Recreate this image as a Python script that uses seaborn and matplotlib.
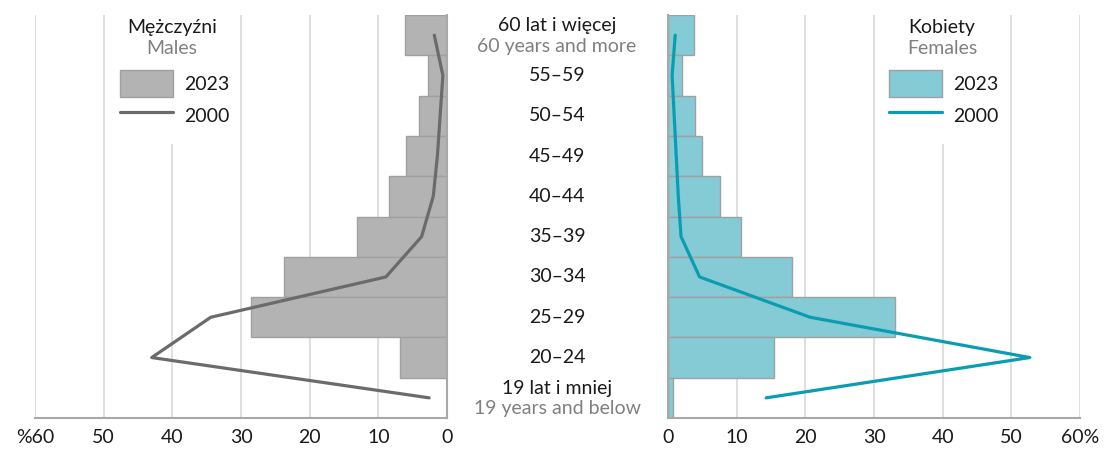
import numpy as np
import matplotlib
matplotlib.use("Agg")
import matplotlib.pyplot as plt
import matplotlib.transforms as mtransforms
from matplotlib.patches import Patch, Rectangle
from matplotlib.lines import Line2D
import seaborn as sns

# age groups, top to bottom
age_groups = ["60+", "55-59", "50-54", "45-49", "40-44", "35-39", "30-34", "25-29", "20-24", "<=19"]
labels_pl = ["60 lat i więcej", "55–59", "50–54", "45–49", "40–44", "35–39", "30–34", "25–29", "20–24", "19 lat i mniej"]
labels_en = ["60 years and more", "", "", "", "", "", "", "", "", "19 years and below"]

# share in %
male_2023 = [6.1, 2.7, 4.1, 6.0, 8.4, 13.1, 23.8, 28.6, 6.8, 0.0]
male_2000 = [1.85, 0.6, 1.0, 1.4, 2.0, 3.7, 8.9, 34.4, 43.0, 2.6]
female_2023 = [3.8, 2.1, 3.9, 5.0, 7.6, 10.6, 18.0, 33.0, 15.4, 0.8]
female_2000 = [1.05, 0.6, 0.9, 1.2, 1.5, 1.9, 4.6, 20.7, 52.7, 14.3]

x_ticks = [60, 50, 40, 30, 20, 10, 0]
left_tick_labels = ["%60", "50", "40", "30", "20", "10", "0"]
right_tick_labels = ["0", "10", "20", "30", "40", "50", "60%"]

sns.set_style("white")
plt.rcParams['font.family'] = ['Lato', 'DejaVu Sans']

male_bar = "#b3b3b3"
male_line = "#6b6b6b"
female_bar = "#84cbd6"
female_line = "#0a9db2"
edge = "#a0a0a0"
grid = "#d9d9d9"
spine = "#a8a8a8"
dark = "#1a1a1a"
grey_txt = "#808080"
fs = 14

fig = plt.figure(figsize=(11.07, 4.51), dpi=100)
W, H = 1107, 451
ax_l = fig.add_axes([35 / W, 1 - 418 / H, 412 / W, 403 / H])
ax_r = fig.add_axes([668 / W, 1 - 418 / H, 412 / W, 403 / H])

ypos = np.arange(len(age_groups))

def panel(ax, bars, line, bar_col, line_col):
    sns.barplot(x=bars, y=age_groups, orient="h", color=bar_col, saturation=1,
                width=1.0, edgecolor=edge, linewidth=1, ax=ax, zorder=2)
    sns.lineplot(x=line, y=ypos, orient="y", sort=False, estimator=None,
                 color=line_col, linewidth=2.3, ax=ax, zorder=3)
    ax.set_ylim(9.5, -0.5)
    ax.set_yticks([])
    ax.set_ylabel("")
    ax.set_xlabel("")
    ax.set_axisbelow(True)
    ax.grid(axis="x", color=grid, linewidth=1.2)
    ax.grid(axis="y", visible=False)
    ax.tick_params(axis="x", length=0, pad=8, labelsize=fs, colors=dark)
    for s in ax.spines.values():
        s.set_visible(False)
    ax.spines["bottom"].set_visible(True)
    ax.spines["bottom"].set_color(spine)
    ax.spines["bottom"].set_linewidth(1.5)

panel(ax_l, male_2023, male_2000, male_bar, male_line)
ax_l.set_xlim(60, 0)
ax_l.set_xticks(x_ticks)
ax_l.set_xticklabels(left_tick_labels)
ax_l.spines["right"].set_visible(True)
ax_l.spines["right"].set_color(spine)
ax_l.spines["right"].set_linewidth(1.5)

panel(ax_r, female_2023, female_2000, female_bar, female_line)
ax_r.set_xlim(0, 60)
ax_r.set_xticks(x_ticks[::-1])
ax_r.set_xticklabels(right_tick_labels)
ax_r.spines["left"].set_visible(True)
ax_r.spines["left"].set_color(spine)
ax_r.spines["left"].set_linewidth(1.5)

# white area behind the legends (hides the 40 gridline)
for ax in (ax_l, ax_r):
    tr = mtransforms.blended_transform_factory(ax.transData, ax.transAxes)
    ax.add_patch(Rectangle((35, 0.68), 10, 0.4, transform=tr, facecolor="white",
                           edgecolor="none", zorder=1, clip_on=False))

def legend(ax, bar_col, line_col, x_px, title_pl, title_en, title_x):
    handles = [Patch(facecolor=bar_col, edgecolor=edge, linewidth=1, label="2023"),
               Line2D([], [], color=line_col, linewidth=2.3, label="2000")]
    ax.legend(handles=handles, loc="upper left", frameon=False, borderpad=0,
              borderaxespad=0, bbox_to_anchor=(x_px / W, 1 - 70 / H),
              bbox_transform=fig.transFigure,
              handlelength=2.7, handleheight=1.76, handletextpad=0.6,
              labelspacing=0.25, fontsize=fs, labelcolor=dark)
    fig.text(title_x / W, 1 - 27 / H, title_pl, ha="center", va="center", fontsize=fs, color=dark)
    fig.text(title_x / W, 1 - 49 / H, title_en, ha="center", va="center", fontsize=fs, color=grey_txt)

legend(ax_l, male_bar, male_line, 120, "Mężczyźni", "Males", 172)
legend(ax_r, female_bar, female_line, 889, "Kobiety", "Females", 942)

# age group labels between the panels
trc = mtransforms.blended_transform_factory(fig.transFigure, ax_r.transData)
for i, (pl, en) in enumerate(zip(labels_pl, labels_en)):
    if en:
        fig.text(557 / W, i - 0.24, pl, transform=trc, ha="center", va="center", fontsize=fs, color=dark)
        fig.text(557 / W, i + 0.27, en, transform=trc, ha="center", va="center", fontsize=fs, color=grey_txt)
    else:
        fig.text(557 / W, i, pl, transform=trc, ha="center", va="center", fontsize=fs, color=dark)

fig.savefig("out.png", dpi=100, facecolor="white")
